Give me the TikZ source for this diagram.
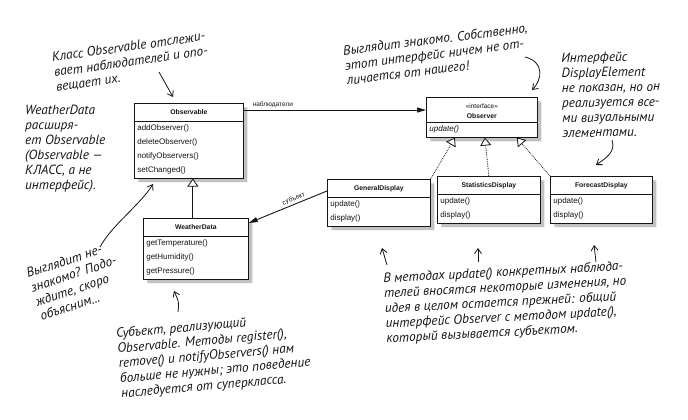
\documentclass[tikz,border=0pt]{standalone}
\usepackage{fontspec}
\setmainfont{Liberation Sans}
\newfontfamily\handfont{PT Sans}
\usepackage{tikz}
\usetikzlibrary{arrows.meta,positioning,shapes.multipart,shadows}
\definecolor{cInk}{HTML}{151515}
\definecolor{cShade}{HTML}{858585}
\newcommand{\umlhead}[1]{{\centering\fontsize{6.8}{10}\selectfont\bfseries\strut #1\par}}
\tikzset{
  uclass/.style={rectangle split,rectangle split parts=2,draw=cInk,fill=white,line width=0.7pt,
    text width=#1,align=left,anchor=north west,inner xsep=3pt,inner ysep=3.5pt,text=cInk,
    font=\fontsize{8}{14}\selectfont,
    drop shadow={shadow xshift=4pt,shadow yshift=-4pt,fill=cShade}},
  uclass/.default=97pt,
  assoc/.style={-{Triangle[length=9pt,width=5pt]},line width=0.9pt,color=cInk},
  inherit/.style={-{Triangle[open,length=8pt,width=11pt,fill=white]},line width=0.8pt,color=cInk},
  realize/.style={-{Triangle[open,length=8pt,width=11pt,fill=white]},densely dotted,line width=0.8pt,color=cInk},
  note/.style={font=\handfont\itshape\fontsize{13.3}{15}\selectfont,align=left,text=cInk,inner sep=0pt},
  hand/.style={-{Straight Barb[length=5pt,width=7pt]},line width=0.8pt,color=cInk},
  lbl/.style={font=\fontsize{6.5}{8}\selectfont,text=cInk,inner sep=1.5pt},
}

\begin{document}
\begin{tikzpicture}[x=1pt,y=-1pt]
  \useasboundingbox (0,0) rectangle (688,420);
  \node[uclass=103pt] (obs) at (134,103) {\umlhead{Observable}\nodepart{two}addObserver()\\deleteObserver()\\notifyObservers()\\setChanged()};
  \node[uclass=99pt] (wd) at (143,218) {\umlhead{WeatherData}\nodepart{two}getTemperature()\\getHumidity()\\getPressure()};
  \node[uclass=105pt] (obsv) at (426,97) {\umlhead{{\mdseries\fontsize{6.5}{8}\selectfont\textless\textless interface\textgreater\textgreater}\\Observer}\nodepart{two}\textit{update()}};
  \node[uclass] (gen) at (327,179) {\umlhead{GeneralDisplay}\nodepart{two}update()\\display()};
  \node[uclass] (stat) at (437,176) {\umlhead{StatisticsDisplay}\nodepart{two}update()\\display()};
  \node[uclass=96pt] (fore) at (550,176) {\umlhead{ForecastDisplay}\nodepart{two}update()\\display()};

  \draw[assoc] ([yshift=-7pt]obs.north east) -- node[lbl,above,pos=0.16]{наблюдатели} ([yshift=-7pt]obs.north east -| obsv.west);
  \draw[inherit] ([xshift=-3pt]wd.north) -- ([xshift=-3pt]wd.north |- obs.south);
  \draw[assoc] ([yshift=-12pt]gen.north west) -- node[lbl,above,sloped,pos=0.4]{субъект} ([yshift=-5pt]wd.north east);
  \draw[realize] (gen.north east) -- ([xshift=-27pt]obsv.south);
  \draw[realize] (stat.north) -- ([xshift=3pt]obsv.south);
  \draw[realize] (fore.north west) -- ([xshift=35pt]obsv.south);

  \node[note,rotate=8] (nObs) at (131,62) {Класс Observable отслежи-\\вает наблюдателей и опо-\\вещает их.};
  \node[note,anchor=north west] (nExt) at (25,105) {WeatherData\\расширя-\\ет Observable\\(Observable —\\КЛАСС, а не\\интерфейс).};
  \node[note,rotate=18] (nWait) at (76,281) {Выглядит не-\\знакомо? Подо-\\ждите, скоро\\объясним...};
  \node[note,rotate=5] (nSubj) at (214,356) {Субъект, реализующий\\Observable. Методы register(),\\remove() и notifyObservers() нам\\больше не нужны; это поведение\\наследуется от суперкласса.};
  \node[note,rotate=7] (nFam) at (437,54) {Выглядит знакомо. Собственно,\\этот интерфейс ничем не от-\\личается от нашего!};
  \node[note,anchor=north west,rotate=1] (nDisp) at (561,53) {Интерфейс\\DisplayElement\\не показан, но он\\реализуется все-\\ми визуальными\\элементами.};
  \node[note,rotate=3] (nUpd) at (506,303) {В методах update() конкретных наблюда-\\телей вносятся некоторые изменения, но\\идея в целом остается прежней: общий\\интерфейс Observer с методом update(),\\который вызывается субъектом.};

  \coordinate (t1) at (159,72);  \coordinate (h1) at (173,97);
  \coordinate (t2) at (100,247); \coordinate (h2) at (153,184);
  \coordinate (t3) at (178,312); \coordinate (h3) at (174,291);
  \coordinate (t4) at (525,57);  \coordinate (h4) at (532,90);
  \coordinate (t5) at (612,140); \coordinate (h5) at (596,165);
  \draw[hand] (t1) -- (h1);
  \draw[hand] (t2) .. controls (112,225) and (140,205) .. (h2);
  \draw[hand] (t3) .. controls (179,302) .. (h3);
  \draw[hand] (t4) .. controls (545,62) and (542,80) .. (h4);
  \draw[hand] (t5) .. controls (616,152) and (606,158) .. (h5);
  \foreach \n/\a/\b/\c/\d in {u1/387/265/382/248,u2/478/262/478/248,u3/596/262/594/245}{
    \coordinate (\n t) at (\a,\b); \coordinate (\n h) at (\c,\d);
    \draw[hand] (\n t) -- (\n h);}
\end{tikzpicture}
\end{document}
